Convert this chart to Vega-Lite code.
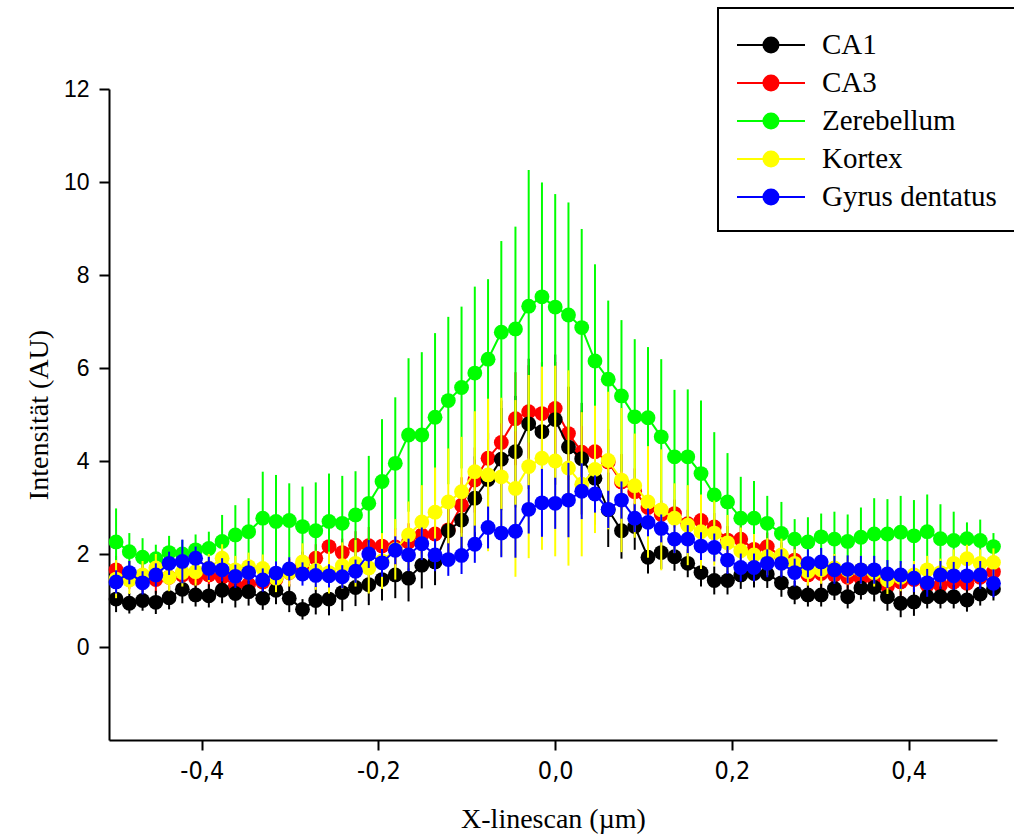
{
"$schema":"https://vega.github.io/schema/vega-lite/v6.json",
"width":888,"height":651,
"autosize":"none",
"padding":{"left":109,"top":89,"right":17,"bottom":98},
"background":"white",
"config":{"view":{"stroke":null},
"style":{"guide-title":{"font":"Liberation Serif, Times New Roman, serif","fontWeight":"normal","fontSize":28,"fill":"black"}},
"axisX":{"titleFont":"Liberation Serif, Times New Roman, serif"},
"axisY":{"titleFont":"Liberation Serif, Times New Roman, serif"},
"axis":{"grid":false,"domainColor":"black","domainWidth":2,"tickColor":"black","tickWidth":2,"tickSize":10,"labelColor":"black","titleColor":"black","titleFont":"Liberation Serif, Times New Roman, serif","titleFontWeight":"normal","titleFontSize":28}},
"datasets":{"d":[
{"s":"CA1","x":-0.497,"y":1.03,"e":0.28},{"s":"CA1","x":-0.482,"y":0.94,"e":0.22},{"s":"CA1","x":-0.467,"y":1.0,"e":0.22},{"s":"CA1","x":-0.452,"y":0.96,"e":0.25},{"s":"CA1","x":-0.437,"y":1.06,"e":0.25},{"s":"CA1","x":-0.422,"y":1.24,"e":0.3},{"s":"CA1","x":-0.407,"y":1.12,"e":0.25},{"s":"CA1","x":-0.392,"y":1.1,"e":0.25},{"s":"CA1","x":-0.377,"y":1.22,"e":0.28},{"s":"CA1","x":-0.362,"y":1.15,"e":0.3},
{"s":"CA1","x":-0.347,"y":1.19,"e":0.3},{"s":"CA1","x":-0.331,"y":1.05,"e":0.25},{"s":"CA1","x":-0.316,"y":1.22,"e":0.3},{"s":"CA1","x":-0.301,"y":1.05,"e":0.3},{"s":"CA1","x":-0.286,"y":0.81,"e":0.22},{"s":"CA1","x":-0.271,"y":1.0,"e":0.3},{"s":"CA1","x":-0.256,"y":1.03,"e":0.35},{"s":"CA1","x":-0.241,"y":1.17,"e":0.4},{"s":"CA1","x":-0.226,"y":1.28,"e":0.4},{"s":"CA1","x":-0.211,"y":1.34,"e":0.44},
{"s":"CA1","x":-0.196,"y":1.45,"e":0.45},{"s":"CA1","x":-0.181,"y":1.55,"e":0.5},{"s":"CA1","x":-0.166,"y":1.48,"e":0.5},{"s":"CA1","x":-0.151,"y":1.76,"e":0.5},{"s":"CA1","x":-0.136,"y":1.83,"e":0.5},{"s":"CA1","x":-0.121,"y":2.5,"e":0.6},{"s":"CA1","x":-0.106,"y":2.73,"e":0.7},{"s":"CA1","x":-0.091,"y":3.2,"e":0.9},{"s":"CA1","x":-0.076,"y":3.6,"e":1.0},{"s":"CA1","x":-0.061,"y":4.04,"e":1.1},
{"s":"CA1","x":-0.045,"y":4.2,"e":1.2},{"s":"CA1","x":-0.03,"y":4.8,"e":1.4},{"s":"CA1","x":-0.015,"y":4.63,"e":1.5},{"s":"CA1","x":0.0,"y":4.89,"e":1.4},{"s":"CA1","x":0.015,"y":4.3,"e":1.3},{"s":"CA1","x":0.03,"y":4.05,"e":1.2},{"s":"CA1","x":0.045,"y":3.63,"e":1.0},{"s":"CA1","x":0.06,"y":2.95,"e":0.8},{"s":"CA1","x":0.075,"y":2.5,"e":0.6},{"s":"CA1","x":0.09,"y":2.59,"e":0.5},
{"s":"CA1","x":0.105,"y":1.93,"e":0.35},{"s":"CA1","x":0.12,"y":2.03,"e":0.35},{"s":"CA1","x":0.135,"y":1.94,"e":0.3},{"s":"CA1","x":0.15,"y":1.8,"e":0.3},{"s":"CA1","x":0.165,"y":1.6,"e":0.3},{"s":"CA1","x":0.18,"y":1.43,"e":0.3},{"s":"CA1","x":0.195,"y":1.43,"e":0.3},{"s":"CA1","x":0.21,"y":1.55,"e":0.3},{"s":"CA1","x":0.225,"y":1.58,"e":0.3},{"s":"CA1","x":0.24,"y":1.57,"e":0.3},
{"s":"CA1","x":0.256,"y":1.38,"e":0.3},{"s":"CA1","x":0.271,"y":1.17,"e":0.25},{"s":"CA1","x":0.286,"y":1.12,"e":0.25},{"s":"CA1","x":0.301,"y":1.12,"e":0.25},{"s":"CA1","x":0.316,"y":1.26,"e":0.25},{"s":"CA1","x":0.331,"y":1.08,"e":0.25},{"s":"CA1","x":0.346,"y":1.27,"e":0.25},{"s":"CA1","x":0.361,"y":1.28,"e":0.3},{"s":"CA1","x":0.376,"y":1.08,"e":0.3},{"s":"CA1","x":0.391,"y":0.94,"e":0.3},
{"s":"CA1","x":0.406,"y":0.97,"e":0.3},{"s":"CA1","x":0.421,"y":1.08,"e":0.25},{"s":"CA1","x":0.436,"y":1.08,"e":0.25},{"s":"CA1","x":0.451,"y":1.08,"e":0.25},{"s":"CA1","x":0.466,"y":1.01,"e":0.25},{"s":"CA1","x":0.481,"y":1.14,"e":0.25},{"s":"CA1","x":0.496,"y":1.25,"e":0.25},

{"s":"CA3","x":-0.497,"y":1.66,"e":0.3},{"s":"CA3","x":-0.482,"y":1.55,"e":0.3},{"s":"CA3","x":-0.467,"y":1.5,"e":0.3},{"s":"CA3","x":-0.452,"y":1.45,"e":0.3},{"s":"CA3","x":-0.437,"y":1.5,"e":0.3},{"s":"CA3","x":-0.422,"y":1.55,"e":0.3},{"s":"CA3","x":-0.407,"y":1.48,"e":0.3},{"s":"CA3","x":-0.392,"y":1.55,"e":0.3},{"s":"CA3","x":-0.377,"y":1.5,"e":0.3},{"s":"CA3","x":-0.362,"y":1.33,"e":0.3},
{"s":"CA3","x":-0.347,"y":1.35,"e":0.3},{"s":"CA3","x":-0.331,"y":1.4,"e":0.3},{"s":"CA3","x":-0.316,"y":1.45,"e":0.3},{"s":"CA3","x":-0.301,"y":1.6,"e":0.3},{"s":"CA3","x":-0.286,"y":1.75,"e":0.3},{"s":"CA3","x":-0.271,"y":1.91,"e":0.3},{"s":"CA3","x":-0.256,"y":2.16,"e":0.3},{"s":"CA3","x":-0.241,"y":2.03,"e":0.3},{"s":"CA3","x":-0.226,"y":2.19,"e":0.3},{"s":"CA3","x":-0.211,"y":2.18,"e":0.4},
{"s":"CA3","x":-0.196,"y":2.17,"e":0.4},{"s":"CA3","x":-0.181,"y":2.15,"e":0.4},{"s":"CA3","x":-0.166,"y":2.26,"e":0.4},{"s":"CA3","x":-0.151,"y":2.41,"e":0.4},{"s":"CA3","x":-0.136,"y":2.43,"e":0.4},{"s":"CA3","x":-0.121,"y":2.52,"e":0.5},{"s":"CA3","x":-0.106,"y":3.05,"e":0.6},{"s":"CA3","x":-0.091,"y":3.59,"e":0.7},{"s":"CA3","x":-0.076,"y":4.06,"e":0.8},{"s":"CA3","x":-0.061,"y":4.4,"e":0.9},
{"s":"CA3","x":-0.045,"y":4.91,"e":1.0},{"s":"CA3","x":-0.03,"y":5.06,"e":1.0},{"s":"CA3","x":-0.015,"y":5.02,"e":1.1},{"s":"CA3","x":0.0,"y":5.13,"e":1.0},{"s":"CA3","x":0.015,"y":4.59,"e":1.0},{"s":"CA3","x":0.03,"y":4.19,"e":0.9},{"s":"CA3","x":0.045,"y":4.2,"e":0.8},{"s":"CA3","x":0.06,"y":3.98,"e":0.7},{"s":"CA3","x":0.075,"y":3.55,"e":0.6},{"s":"CA3","x":0.09,"y":3.34,"e":0.5},
{"s":"CA3","x":0.105,"y":3.0,"e":0.4},{"s":"CA3","x":0.12,"y":2.85,"e":0.3},{"s":"CA3","x":0.135,"y":2.87,"e":0.3},{"s":"CA3","x":0.15,"y":2.65,"e":0.3},{"s":"CA3","x":0.165,"y":2.72,"e":0.3},{"s":"CA3","x":0.18,"y":2.58,"e":0.3},{"s":"CA3","x":0.195,"y":2.3,"e":0.3},{"s":"CA3","x":0.21,"y":2.32,"e":0.3},{"s":"CA3","x":0.225,"y":2.1,"e":0.3},{"s":"CA3","x":0.24,"y":2.16,"e":0.3},
{"s":"CA3","x":0.256,"y":1.95,"e":0.3},{"s":"CA3","x":0.271,"y":1.87,"e":0.3},{"s":"CA3","x":0.286,"y":1.55,"e":0.3},{"s":"CA3","x":0.301,"y":1.58,"e":0.3},{"s":"CA3","x":0.316,"y":1.55,"e":0.3},{"s":"CA3","x":0.331,"y":1.5,"e":0.3},{"s":"CA3","x":0.346,"y":1.48,"e":0.3},{"s":"CA3","x":0.361,"y":1.45,"e":0.3},{"s":"CA3","x":0.376,"y":1.3,"e":0.3},{"s":"CA3","x":0.391,"y":1.4,"e":0.3},
{"s":"CA3","x":0.406,"y":1.45,"e":0.3},{"s":"CA3","x":0.421,"y":1.33,"e":0.3},{"s":"CA3","x":0.436,"y":1.33,"e":0.3},{"s":"CA3","x":0.451,"y":1.4,"e":0.3},{"s":"CA3","x":0.466,"y":1.37,"e":0.3},{"s":"CA3","x":0.481,"y":1.5,"e":0.3},{"s":"CA3","x":0.496,"y":1.62,"e":0.3},

{"s":"Zerebellum","x":-0.497,"y":2.26,"e":0.72},{"s":"Zerebellum","x":-0.482,"y":2.05,"e":0.4},{"s":"Zerebellum","x":-0.467,"y":1.93,"e":0.41},{"s":"Zerebellum","x":-0.452,"y":1.9,"e":0.3},{"s":"Zerebellum","x":-0.437,"y":2.03,"e":0.36},{"s":"Zerebellum","x":-0.422,"y":2.0,"e":0.3},{"s":"Zerebellum","x":-0.407,"y":2.09,"e":0.33},{"s":"Zerebellum","x":-0.392,"y":2.12,"e":0.36},{"s":"Zerebellum","x":-0.377,"y":2.27,"e":0.57},{"s":"Zerebellum","x":-0.362,"y":2.41,"e":0.64},
{"s":"Zerebellum","x":-0.347,"y":2.48,"e":0.72},{"s":"Zerebellum","x":-0.331,"y":2.77,"e":1.0},{"s":"Zerebellum","x":-0.316,"y":2.7,"e":1.0},{"s":"Zerebellum","x":-0.301,"y":2.72,"e":0.8},{"s":"Zerebellum","x":-0.286,"y":2.59,"e":0.86},{"s":"Zerebellum","x":-0.271,"y":2.5,"e":1.04},{"s":"Zerebellum","x":-0.256,"y":2.7,"e":1.03},{"s":"Zerebellum","x":-0.241,"y":2.66,"e":1.02},{"s":"Zerebellum","x":-0.226,"y":2.84,"e":0.94},{"s":"Zerebellum","x":-0.211,"y":3.09,"e":1.02},
{"s":"Zerebellum","x":-0.196,"y":3.56,"e":1.34},{"s":"Zerebellum","x":-0.181,"y":3.95,"e":1.42},{"s":"Zerebellum","x":-0.166,"y":4.56,"e":1.65},{"s":"Zerebellum","x":-0.151,"y":4.56,"e":1.78},{"s":"Zerebellum","x":-0.136,"y":4.94,"e":1.81},{"s":"Zerebellum","x":-0.121,"y":5.3,"e":1.8},{"s":"Zerebellum","x":-0.106,"y":5.58,"e":1.74},{"s":"Zerebellum","x":-0.091,"y":5.89,"e":1.86},{"s":"Zerebellum","x":-0.076,"y":6.19,"e":1.72},{"s":"Zerebellum","x":-0.061,"y":6.77,"e":1.96},
{"s":"Zerebellum","x":-0.045,"y":6.84,"e":2.2},{"s":"Zerebellum","x":-0.03,"y":7.33,"e":2.93},{"s":"Zerebellum","x":-0.015,"y":7.53,"e":2.46},{"s":"Zerebellum","x":0.0,"y":7.31,"e":2.43},{"s":"Zerebellum","x":0.015,"y":7.14,"e":2.42},{"s":"Zerebellum","x":0.03,"y":6.87,"e":2.12},{"s":"Zerebellum","x":0.045,"y":6.15,"e":2.08},{"s":"Zerebellum","x":0.06,"y":5.76,"e":1.69},{"s":"Zerebellum","x":0.075,"y":5.4,"e":1.63},{"s":"Zerebellum","x":0.09,"y":4.95,"e":1.67},
{"s":"Zerebellum","x":0.105,"y":4.93,"e":1.52},{"s":"Zerebellum","x":0.12,"y":4.52,"e":1.67},{"s":"Zerebellum","x":0.135,"y":4.09,"e":1.44},{"s":"Zerebellum","x":0.15,"y":4.09,"e":1.45},{"s":"Zerebellum","x":0.165,"y":3.73,"e":1.57},{"s":"Zerebellum","x":0.18,"y":3.27,"e":1.35},{"s":"Zerebellum","x":0.195,"y":3.12,"e":1.05},{"s":"Zerebellum","x":0.21,"y":2.77,"e":0.89},{"s":"Zerebellum","x":0.225,"y":2.77,"e":0.8},{"s":"Zerebellum","x":0.24,"y":2.66,"e":0.59},
{"s":"Zerebellum","x":0.256,"y":2.44,"e":0.68},{"s":"Zerebellum","x":0.271,"y":2.32,"e":0.43},{"s":"Zerebellum","x":0.286,"y":2.26,"e":0.53},{"s":"Zerebellum","x":0.301,"y":2.37,"e":0.5},{"s":"Zerebellum","x":0.316,"y":2.32,"e":0.59},{"s":"Zerebellum","x":0.331,"y":2.27,"e":0.58},{"s":"Zerebellum","x":0.346,"y":2.36,"e":0.64},{"s":"Zerebellum","x":0.361,"y":2.43,"e":0.77},{"s":"Zerebellum","x":0.376,"y":2.43,"e":0.75},{"s":"Zerebellum","x":0.391,"y":2.47,"e":0.78},
{"s":"Zerebellum","x":0.406,"y":2.39,"e":0.77},{"s":"Zerebellum","x":0.421,"y":2.48,"e":0.8},{"s":"Zerebellum","x":0.436,"y":2.33,"e":0.74},{"s":"Zerebellum","x":0.451,"y":2.29,"e":0.62},{"s":"Zerebellum","x":0.466,"y":2.33,"e":0.35},{"s":"Zerebellum","x":0.481,"y":2.29,"e":0.45},{"s":"Zerebellum","x":0.496,"y":2.16,"e":0.29},

{"s":"Kortex","x":-0.497,"y":1.46,"e":0.41},{"s":"Kortex","x":-0.482,"y":1.44,"e":0.3},{"s":"Kortex","x":-0.467,"y":1.55,"e":0.3},{"s":"Kortex","x":-0.452,"y":1.7,"e":0.3},{"s":"Kortex","x":-0.437,"y":1.5,"e":0.3},{"s":"Kortex","x":-0.422,"y":1.6,"e":0.3},{"s":"Kortex","x":-0.407,"y":1.62,"e":0.3},{"s":"Kortex","x":-0.392,"y":1.7,"e":0.3},{"s":"Kortex","x":-0.377,"y":1.91,"e":0.3},{"s":"Kortex","x":-0.362,"y":1.66,"e":0.3},
{"s":"Kortex","x":-0.347,"y":1.73,"e":0.3},{"s":"Kortex","x":-0.331,"y":1.69,"e":0.3},{"s":"Kortex","x":-0.316,"y":1.48,"e":0.3},{"s":"Kortex","x":-0.301,"y":1.6,"e":0.3},{"s":"Kortex","x":-0.286,"y":1.83,"e":0.4},{"s":"Kortex","x":-0.271,"y":1.65,"e":0.42},{"s":"Kortex","x":-0.256,"y":1.6,"e":0.45},{"s":"Kortex","x":-0.241,"y":1.75,"e":0.5},{"s":"Kortex","x":-0.226,"y":1.8,"e":0.5},{"s":"Kortex","x":-0.211,"y":1.7,"e":0.55},
{"s":"Kortex","x":-0.196,"y":1.85,"e":0.6},{"s":"Kortex","x":-0.181,"y":2.1,"e":0.65},{"s":"Kortex","x":-0.166,"y":2.41,"e":0.72},{"s":"Kortex","x":-0.151,"y":2.69,"e":0.79},{"s":"Kortex","x":-0.136,"y":2.9,"e":0.96},{"s":"Kortex","x":-0.121,"y":3.12,"e":1.15},{"s":"Kortex","x":-0.106,"y":3.34,"e":1.18},{"s":"Kortex","x":-0.091,"y":3.77,"e":1.3},{"s":"Kortex","x":-0.076,"y":3.7,"e":1.64},{"s":"Kortex","x":-0.061,"y":3.66,"e":1.7},
{"s":"Kortex","x":-0.045,"y":3.41,"e":1.9},{"s":"Kortex","x":-0.03,"y":3.88,"e":1.97},{"s":"Kortex","x":-0.015,"y":4.06,"e":1.97},{"s":"Kortex","x":0.0,"y":4.0,"e":2.05},{"s":"Kortex","x":0.015,"y":3.85,"e":2.1},{"s":"Kortex","x":0.03,"y":3.5,"e":1.55},{"s":"Kortex","x":0.045,"y":3.82,"e":1.37},{"s":"Kortex","x":0.06,"y":4.01,"e":1.48},{"s":"Kortex","x":0.075,"y":3.59,"e":1.55},{"s":"Kortex","x":0.09,"y":3.47,"e":1.12},
{"s":"Kortex","x":0.105,"y":3.12,"e":1.2},{"s":"Kortex","x":0.12,"y":2.95,"e":1.3},{"s":"Kortex","x":0.135,"y":2.77,"e":0.75},{"s":"Kortex","x":0.15,"y":2.62,"e":0.86},{"s":"Kortex","x":0.165,"y":2.48,"e":0.8},{"s":"Kortex","x":0.18,"y":2.45,"e":0.7},{"s":"Kortex","x":0.195,"y":2.24,"e":0.6},{"s":"Kortex","x":0.21,"y":2.07,"e":0.5},{"s":"Kortex","x":0.225,"y":1.98,"e":0.45},{"s":"Kortex","x":0.24,"y":1.94,"e":0.4},
{"s":"Kortex","x":0.256,"y":1.98,"e":0.35},{"s":"Kortex","x":0.271,"y":1.8,"e":0.3},{"s":"Kortex","x":0.286,"y":1.62,"e":0.3},{"s":"Kortex","x":0.301,"y":1.66,"e":0.3},{"s":"Kortex","x":0.316,"y":1.7,"e":0.3},{"s":"Kortex","x":0.331,"y":1.65,"e":0.3},{"s":"Kortex","x":0.346,"y":1.66,"e":0.3},{"s":"Kortex","x":0.361,"y":1.6,"e":0.3},{"s":"Kortex","x":0.376,"y":1.44,"e":0.3},{"s":"Kortex","x":0.391,"y":1.5,"e":0.3},
{"s":"Kortex","x":0.406,"y":1.55,"e":0.3},{"s":"Kortex","x":0.421,"y":1.66,"e":0.3},{"s":"Kortex","x":0.436,"y":1.6,"e":0.3},{"s":"Kortex","x":0.451,"y":1.8,"e":0.3},{"s":"Kortex","x":0.466,"y":1.9,"e":0.3},{"s":"Kortex","x":0.481,"y":1.8,"e":0.3},{"s":"Kortex","x":0.496,"y":1.82,"e":0.3},

{"s":"Gyrus dentatus","x":-0.497,"y":1.4,"e":0.25},{"s":"Gyrus dentatus","x":-0.482,"y":1.6,"e":0.25},{"s":"Gyrus dentatus","x":-0.467,"y":1.38,"e":0.25},{"s":"Gyrus dentatus","x":-0.452,"y":1.55,"e":0.25},{"s":"Gyrus dentatus","x":-0.437,"y":1.8,"e":0.25},{"s":"Gyrus dentatus","x":-0.422,"y":1.84,"e":0.47},{"s":"Gyrus dentatus","x":-0.407,"y":1.91,"e":0.25},{"s":"Gyrus dentatus","x":-0.392,"y":1.69,"e":0.25},{"s":"Gyrus dentatus","x":-0.377,"y":1.66,"e":0.25},{"s":"Gyrus dentatus","x":-0.362,"y":1.52,"e":0.25},
{"s":"Gyrus dentatus","x":-0.347,"y":1.6,"e":0.25},{"s":"Gyrus dentatus","x":-0.331,"y":1.44,"e":0.25},{"s":"Gyrus dentatus","x":-0.316,"y":1.59,"e":0.25},{"s":"Gyrus dentatus","x":-0.301,"y":1.68,"e":0.25},{"s":"Gyrus dentatus","x":-0.286,"y":1.57,"e":0.25},{"s":"Gyrus dentatus","x":-0.271,"y":1.54,"e":0.25},{"s":"Gyrus dentatus","x":-0.256,"y":1.53,"e":0.25},{"s":"Gyrus dentatus","x":-0.241,"y":1.51,"e":0.25},{"s":"Gyrus dentatus","x":-0.226,"y":1.63,"e":0.25},{"s":"Gyrus dentatus","x":-0.211,"y":2.0,"e":0.3},
{"s":"Gyrus dentatus","x":-0.196,"y":1.81,"e":0.3},{"s":"Gyrus dentatus","x":-0.181,"y":2.08,"e":0.3},{"s":"Gyrus dentatus","x":-0.166,"y":1.98,"e":0.35},{"s":"Gyrus dentatus","x":-0.151,"y":2.22,"e":0.35},{"s":"Gyrus dentatus","x":-0.136,"y":1.98,"e":0.35},{"s":"Gyrus dentatus","x":-0.121,"y":1.88,"e":0.35},{"s":"Gyrus dentatus","x":-0.106,"y":1.97,"e":0.4},{"s":"Gyrus dentatus","x":-0.091,"y":2.21,"e":0.4},{"s":"Gyrus dentatus","x":-0.076,"y":2.57,"e":0.45},{"s":"Gyrus dentatus","x":-0.061,"y":2.45,"e":0.52},
{"s":"Gyrus dentatus","x":-0.045,"y":2.49,"e":0.57},{"s":"Gyrus dentatus","x":-0.03,"y":2.96,"e":0.52},{"s":"Gyrus dentatus","x":-0.015,"y":3.1,"e":0.73},{"s":"Gyrus dentatus","x":0.0,"y":3.09,"e":0.55},{"s":"Gyrus dentatus","x":0.015,"y":3.16,"e":0.8},{"s":"Gyrus dentatus","x":0.03,"y":3.35,"e":0.6},{"s":"Gyrus dentatus","x":0.045,"y":3.29,"e":0.4},{"s":"Gyrus dentatus","x":0.06,"y":2.96,"e":0.4},{"s":"Gyrus dentatus","x":0.075,"y":3.16,"e":0.4},{"s":"Gyrus dentatus","x":0.09,"y":2.77,"e":0.3},
{"s":"Gyrus dentatus","x":0.105,"y":2.68,"e":0.3},{"s":"Gyrus dentatus","x":0.12,"y":2.55,"e":0.3},{"s":"Gyrus dentatus","x":0.135,"y":2.32,"e":0.3},{"s":"Gyrus dentatus","x":0.15,"y":2.32,"e":0.3},{"s":"Gyrus dentatus","x":0.165,"y":2.17,"e":0.3},{"s":"Gyrus dentatus","x":0.18,"y":2.14,"e":0.3},{"s":"Gyrus dentatus","x":0.195,"y":1.87,"e":0.3},{"s":"Gyrus dentatus","x":0.21,"y":1.71,"e":0.3},{"s":"Gyrus dentatus","x":0.225,"y":1.71,"e":0.3},{"s":"Gyrus dentatus","x":0.24,"y":1.8,"e":0.3},
{"s":"Gyrus dentatus","x":0.256,"y":1.8,"e":0.3},{"s":"Gyrus dentatus","x":0.271,"y":1.6,"e":0.3},{"s":"Gyrus dentatus","x":0.286,"y":1.8,"e":0.3},{"s":"Gyrus dentatus","x":0.301,"y":1.83,"e":0.3},{"s":"Gyrus dentatus","x":0.316,"y":1.66,"e":0.3},{"s":"Gyrus dentatus","x":0.331,"y":1.67,"e":0.3},{"s":"Gyrus dentatus","x":0.346,"y":1.66,"e":0.3},{"s":"Gyrus dentatus","x":0.361,"y":1.66,"e":0.3},{"s":"Gyrus dentatus","x":0.376,"y":1.57,"e":0.3},{"s":"Gyrus dentatus","x":0.391,"y":1.55,"e":0.3},
{"s":"Gyrus dentatus","x":0.406,"y":1.48,"e":0.3},{"s":"Gyrus dentatus","x":0.421,"y":1.38,"e":0.3},{"s":"Gyrus dentatus","x":0.436,"y":1.55,"e":0.3},{"s":"Gyrus dentatus","x":0.451,"y":1.53,"e":0.3},{"s":"Gyrus dentatus","x":0.466,"y":1.53,"e":0.3},{"s":"Gyrus dentatus","x":0.481,"y":1.55,"e":0.3},{"s":"Gyrus dentatus","x":0.496,"y":1.37,"e":0.3}
]},
"data":{"name":"d"},
"encoding":{
"x":{"field":"x","type":"quantitative","scale":{"domain":[-0.505,0.5],"nice":false,"zero":false},
"axis":{"values":[-0.4,-0.2,0,0.2,0.4],"labelExpr":"replace(replace(format(datum.value, '.1f'), '.', ','), '\u2212', '-')","labelFont":"DejaVu Sans Condensed, Liberation Sans Narrow, sans-serif","labelFontSize":25,"labelPadding":8,"title":"X-linescan (µm)","titleFont":"Liberation Serif, Times New Roman, serif","titleFontWeight":"normal","titleFontSize":28,"titlePadding":22,
"encode":{"title":{"update":{"font":{"value":"Liberation Serif, Times New Roman, serif"}}}}}},
"y":{"field":"y","type":"quantitative","scale":{"domain":[-2,12],"nice":false,"zero":false},
"axis":{"values":[0,2,4,6,8,10,12],"labelFont":"Liberation Sans, Arial, sans-serif","labelFontSize":23,"labelPadding":10,"title":"Intensität (AU)","titleFont":"Liberation Serif, Times New Roman, serif","titleFontWeight":"normal","titleFontSize":28,"titlePadding":10,
"encode":{"title":{"update":{"font":{"value":"Liberation Serif, Times New Roman, serif"}}}}}},
"color":{"field":"s","type":"nominal",
"scale":{"domain":["CA1","CA3","Zerebellum","Kortex","Gyrus dentatus"],"range":["#000000","#ff0000","#00ff00","#ffff00","#0000ff"]},
"legend":{"orient":"none","legendX":609,"legendY":-81,"title":null,
"symbolType":"M-2,0H2M0.44,0A0.44,0.44,0,1,1,-0.44,0A0.44,0.44,0,1,1,0.44,0Z",
"symbolSize":1156,"symbolStrokeWidth":2,"symbolOpacity":1,"symbolOffset":16,
"labelFont":"Liberation Serif, Times New Roman, serif","labelFontSize":29,"labelColor":"black","labelOffset":33,"labelLimit":400,
"padding":19,"rowPadding":5,"strokeColor":"black",
"encode":{"legend":{"update":{"strokeWidth":{"value":2}}},
"symbols":{"update":{"fill":{"scale":"color","field":"value"},"stroke":{"scale":"color","field":"value"},"opacity":{"value":1}}}}}}
},
"layer":[
{"transform":[{"filter":"datum.s==='CA3'"}],"layer":[
{"mark":{"type":"errorbar","thickness":2},"encoding":{"yError":{"field":"e"}}},
{"mark":{"type":"line","strokeWidth":2},"encoding":{}},
{"mark":{"type":"point","filled":true,"size":220,"opacity":1},"encoding":{}}]},
{"transform":[{"filter":"datum.s==='CA1'"}],"layer":[
{"mark":{"type":"errorbar","thickness":2},"encoding":{"yError":{"field":"e"}}},
{"mark":{"type":"line","strokeWidth":2},"encoding":{}},
{"mark":{"type":"point","filled":true,"size":220,"opacity":1},"encoding":{}}]},
{"transform":[{"filter":"datum.s==='Zerebellum'"}],"layer":[
{"mark":{"type":"errorbar","thickness":2},"encoding":{"yError":{"field":"e"}}},
{"mark":{"type":"line","strokeWidth":2},"encoding":{}},
{"mark":{"type":"point","filled":true,"size":220,"opacity":1},"encoding":{}}]},
{"transform":[{"filter":"datum.s==='Kortex'"}],"layer":[
{"mark":{"type":"errorbar","thickness":2},"encoding":{"yError":{"field":"e"}}},
{"mark":{"type":"line","strokeWidth":2},"encoding":{}},
{"mark":{"type":"point","filled":true,"size":220,"opacity":1},"encoding":{}}]},
{"transform":[{"filter":"datum.s==='Gyrus dentatus'"}],"layer":[
{"mark":{"type":"errorbar","thickness":2},"encoding":{"yError":{"field":"e"}}},
{"mark":{"type":"line","strokeWidth":2},"encoding":{}},
{"mark":{"type":"point","filled":true,"size":220,"opacity":1},"encoding":{}}]}
]
}
